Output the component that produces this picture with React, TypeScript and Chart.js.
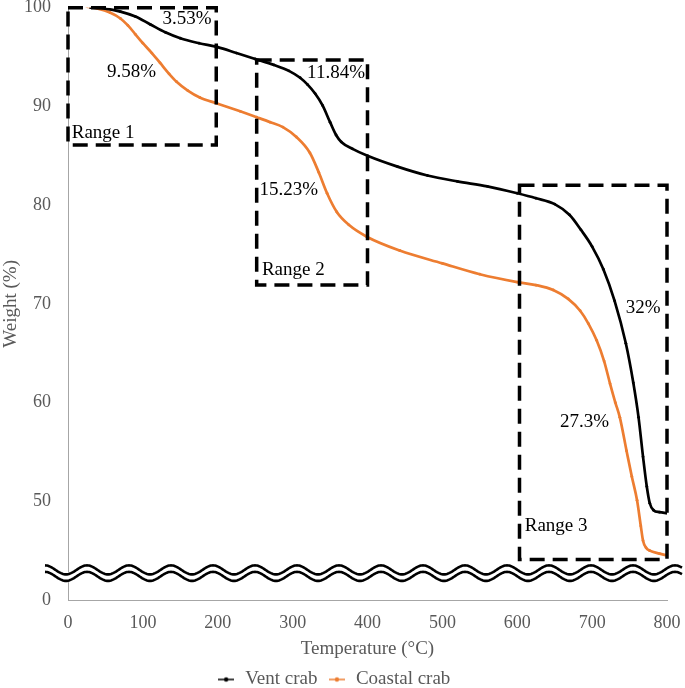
import React, { useEffect, useRef } from 'react';
import { Chart, registerables } from 'chart.js';

Chart.register(...registerables);

// Vent crab (black)
const ventTemp = [30, 50, 70, 90, 110, 130, 150, 175, 200, 225, 250, 275, 295, 310, 320, 330, 340, 350, 358, 365, 380, 400, 440, 480, 520, 560, 600, 625, 650, 670, 685, 700, 715, 730, 745, 755, 762, 768, 773, 777, 782, 790, 800];
const ventWeight = [100.0, 99.9, 99.6, 99.1, 98.3, 97.5, 96.9, 96.4, 96.0, 95.4, 94.8, 94.2, 93.6, 92.9, 92.2, 91.3, 90.1, 88.4, 87.1, 86.4, 85.7, 85.0, 83.9, 83.0, 82.4, 81.9, 81.2, 80.7, 80.1, 79.0, 77.5, 75.8, 73.5, 70.3, 66.0, 62.0, 58.5, 54.5, 51.5, 49.8, 49.1, 48.9, 48.8];

// Coastal crab (orange)
const coastalTemp = [25, 40, 56, 70, 80, 90, 100, 112, 123, 135, 145, 160, 176, 199, 230, 252, 270, 287, 305, 323, 335, 346, 359, 375, 399, 443, 500, 550, 600, 625, 648, 668, 684, 695, 706, 716, 724, 731, 737, 746, 753, 760, 765, 768, 772, 777, 790, 800];
const coastalWeight = [100.1, 99.9, 99.5, 98.9, 98.2, 97.3, 96.4, 95.4, 94.4, 93.3, 92.5, 91.6, 90.9, 90.3, 89.5, 88.9, 88.4, 87.9, 86.9, 85.3, 83.3, 81.2, 79.3, 78.0, 76.8, 75.4, 74.1, 73.0, 72.2, 71.9, 71.4, 70.5, 69.3, 68.0, 66.3, 64.2, 61.9, 60.0, 58.5, 55.1, 52.5, 50.1, 47.5, 46.0, 45.3, 45.0, 44.7, 44.5];

// Axis ticks (the lowest position 40 is shown as "0" because of the axis break)
const xTickValues = [0, 100, 200, 300, 400, 500, 600, 700, 800];
const yTickValues = [40, 50, 60, 70, 80, 90, 100];
const yTickLabels = ['0', '50', '60', '70', '80', '90', '100'];

// Dashed ranges [xStart, xEnd, yLow, yHigh]
const rangeBoxes = [
  [0, 198, 86.1, 100],
  [252, 400, 71.9, 94.7],
  [603, 800, 44.1, 82.0],
];

// Text annotations
const noteTexts = ['3.53%', '9.58%', '11.84%', '15.23%', '32%', '27.3%', 'Range 1', 'Range 2', 'Range 3'];
const noteX = [159, 85, 358, 295, 768, 690, 5, 259, 610];
const noteY = [98.8, 93.5, 93.4, 81.5, 69.6, 58.0, 87.3, 73.4, 47.5];
const noteAlign = ['center', 'center', 'center', 'center', 'center', 'center', 'left', 'left', 'left'];

const FONT = '"Liberation Serif", "DejaVu Serif", serif';
const GREY = '#595959';
const ORANGE = '#ED7D31';

function legendIcon(color: string) {
  const c = document.createElement('canvas');
  c.width = 16;
  c.height = 8;
  const g = c.getContext('2d')!;
  g.strokeStyle = color;
  g.lineWidth = 1.5;
  g.beginPath();
  g.moveTo(0, 4);
  g.lineTo(16, 4);
  g.stroke();
  g.fillStyle = color;
  g.beginPath();
  g.arc(8, 4, 2.2, 0, Math.PI * 2);
  g.fill();
  return c;
}

const overlayPlugin = {
  id: 'overlay',
  afterDatasetsDraw(chart: any) {
    const ctx = chart.ctx;
    const xs = chart.scales.x;
    const ys = chart.scales.y;
    ctx.save();
    // dashed range boxes
    ctx.strokeStyle = '#000';
    ctx.lineWidth = 3.5;
    ctx.setLineDash([15, 8]);
    rangeBoxes.forEach((b) => {
      const x0 = xs.getPixelForValue(b[0]);
      const x1 = xs.getPixelForValue(b[1]);
      const y0 = ys.getPixelForValue(b[3]);
      const y1 = ys.getPixelForValue(b[2]);
      ctx.strokeRect(x0, y0, x1 - x0, y1 - y0);
    });
    ctx.setLineDash([]);
    // annotations
    ctx.fillStyle = '#000';
    ctx.font = '19px ' + FONT;
    ctx.textBaseline = 'middle';
    noteTexts.forEach((t, i) => {
      ctx.textAlign = noteAlign[i];
      ctx.fillText(t, xs.getPixelForValue(noteX[i]), ys.getPixelForValue(noteY[i]));
    });
    // axis break wave
    const yA = ys.getPixelForValue(43.05);
    const yB = yA + 6.5;
    const left = chart.chartArea.left - 23;
    const right = chart.width - 3;
    const period = 42;
    const amp = 4.5;
    const wy = (yc: number, x: number) => yc - amp * Math.cos(((x - left) / period) * Math.PI * 2);
    ctx.fillStyle = '#fff';
    ctx.beginPath();
    for (let x = left; x <= right; x += 1) {
      const y = wy(yA, x) - 1.5;
      if (x === left) ctx.moveTo(x, y); else ctx.lineTo(x, y);
    }
    for (let x = right; x >= left; x -= 1) ctx.lineTo(x, wy(yB, x) + 1.5);
    ctx.closePath();
    ctx.fill();
    ctx.strokeStyle = '#000';
    ctx.lineWidth = 2.6;
    [yA, yB].forEach((yc) => {
      ctx.beginPath();
      for (let x = left; x <= right; x += 1) {
        const y = wy(yc, x);
        if (x === left) ctx.moveTo(x, y); else ctx.lineTo(x, y);
      }
      ctx.stroke();
    });
    ctx.restore();
  },
};

export default function App() {
  const ref = useRef<HTMLCanvasElement | null>(null);

  useEffect(() => {
    if (!ref.current) return;
    const icons = [legendIcon('#000'), legendIcon(ORANGE)];
    const chart = new Chart(ref.current, {
      type: 'line',
      data: {
        datasets: [
          {
            label: 'Vent crab',
            data: ventTemp.map((t, i) => ({ x: t, y: ventWeight[i] })),
            borderColor: '#000',
            backgroundColor: '#000',
            borderWidth: 2.7,
            pointRadius: 1.4,
            pointBorderWidth: 0,
            cubicInterpolationMode: 'monotone',
          },
          {
            label: 'Coastal crab',
            data: coastalTemp.map((t, i) => ({ x: t, y: coastalWeight[i] })),
            borderColor: ORANGE,
            backgroundColor: ORANGE,
            borderWidth: 2.7,
            pointRadius: 1.4,
            pointBorderWidth: 0,
            cubicInterpolationMode: 'monotone',
          },
        ],
      },
      options: {
        animation: false,
        responsive: false,
        layout: { padding: { left: 0, right: 18, top: 0, bottom: 0 } },
        plugins: {
          tooltip: { enabled: false },
          legend: {
            position: 'bottom',
            labels: {
              font: { family: FONT, size: 19 },
              color: GREY,
              usePointStyle: true,
              padding: 10,
              generateLabels(c: any) {
                const items = Chart.defaults.plugins.legend.labels.generateLabels(c);
                return items.map((it: any, i: number) => ({ ...it, pointStyle: icons[i] }));
              },
            },
          },
        },
        scales: {
          x: {
            type: 'linear',
            min: 0,
            max: 800,
            afterBuildTicks: (s: any) => { s.ticks = xTickValues.map((v) => ({ value: v })); },
            afterFit: (s: any) => { s.height = 60; },
            ticks: { font: { family: FONT, size: 18 }, color: GREY, padding: 0, maxRotation: 0 },
            grid: { display: false, drawTicks: true, tickLength: 12 },
            border: { display: true, color: '#A6A6A6', width: 1 },
            title: { display: true, text: 'Temperature (°C)', font: { family: FONT, size: 19 }, color: GREY, padding: { top: 0, bottom: 0 } },
          },
          y: {
            type: 'linear',
            min: 40,
            max: 100,
            afterBuildTicks: (s: any) => { s.ticks = yTickValues.map((v) => ({ value: v })); },
            afterFit: (s: any) => { s.width = 68; },
            ticks: {
              font: { family: FONT, size: 18, lineHeight: 0.85 },
              color: GREY,
              padding: 0,
              callback: (v: any) => yTickLabels[yTickValues.indexOf(Number(v))],
            },
            grid: { display: false, drawTicks: true, tickLength: 17 },
            border: { display: true, color: '#A6A6A6', width: 1 },
            title: { display: true, text: 'Weight (%)', font: { family: FONT, size: 19 }, color: GREY, padding: 0 },
          },
        },
      },
      plugins: [overlayPlugin],
    } as any);
    return () => chart.destroy();
  }, []);

  return (
    <div style={{ position: 'fixed', left: 0, top: 0, width: 685, height: 688, overflow: 'hidden', background: '#fff' }}>
      <canvas ref={ref} width={685} height={699} style={{ display: 'block' }} />
    </div>
  );
}
